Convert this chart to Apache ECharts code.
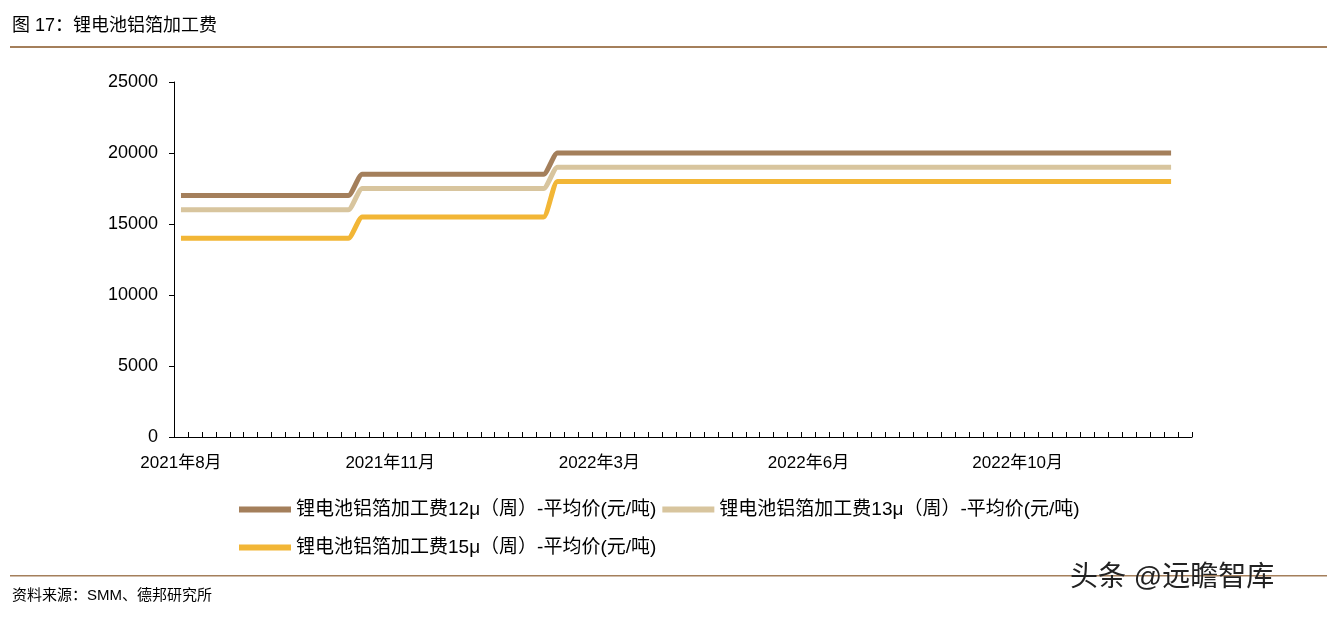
<!DOCTYPE html>
<html><head><meta charset="utf-8">
<script src="https://cdn.jsdelivr.net/npm/echarts@6/dist/echarts.min.js"></script>
<style>html,body{margin:0;background:#fff}#c{width:1335px;height:619px}</style>
</head><body><div id="c"></div>
<script>
// weekly points, Aug 2021 .. Dec 2022
const tickLabels = {0: '2021年8月', 15: '2021年11月', 30: '2022年3月', 45: '2022年6月', 60: '2022年10月'}
const categories = []
for (let i = 0; i < 73; i++) categories.push('w' + i)

const run = (v, n) => Array(n).fill(v)
const s12 = [].concat(run(17000, 13), run(18500, 14), run(20000, 45))
const s13 = [].concat(run(16000, 13), run(17500, 14), run(19000, 45))
const s15 = [].concat(run(14000, 13), run(15500, 14), run(18000, 45))

const names = ['锂电池铝箔加工费12μ（周）-平均价(元/吨)', '锂电池铝箔加工费13μ（周）-平均价(元/吨)', '锂电池铝箔加工费15μ（周）-平均价(元/吨)']
const colors = ['#A47F5B', '#D8C59E', '#F2B636']
const font = 'Arial, "Noto Sans CJK SC", sans-serif'

const chart = echarts.init(document.getElementById('c'))
const line = (name, data, color) => ({
  name, data, type: 'line', symbol: 'none', smooth: 0.2,
  lineStyle: { width: 5, color }, itemStyle: { color }
})
chart.setOption({
  animation: false,
  textStyle: { fontFamily: font },
  grid: { left: 174, right: 143, top: 82, bottom: 182 },
  xAxis: {
    type: 'category', data: categories, boundaryGap: true,
    axisLine: { lineStyle: { color: '#000' } },
    axisTick: { show: true, interval: 0, inside: true, length: 5, lineStyle: { color: '#000' } },
    axisLabel: { interval: 0, color: '#000', fontSize: 17, margin: 18, formatter: (v, i) => tickLabels[i] || '' }
  },
  yAxis: {
    min: 0, max: 25000, interval: 5000,
    axisLine: { show: true, lineStyle: { color: '#000' } },
    axisTick: { show: true, length: 5, lineStyle: { color: '#000' } },
    splitLine: { show: false },
    axisLabel: { color: '#000', fontSize: 18, margin: 16, formatter: v => String(v) }
  },
  legend: [
    { data: names.slice(0, 2), left: 234, top: 495, icon: 'rect', itemWidth: 52, itemHeight: 6, itemGap: 6, textStyle: { fontSize: 19, color: '#000' } },
    { data: names.slice(2), left: 234, top: 533, icon: 'rect', itemWidth: 52, itemHeight: 6, textStyle: { fontSize: 19, color: '#000' } }
  ],
  series: [line(names[0], s12, colors[0]), line(names[1], s13, colors[1]), line(names[2], s15, colors[2])],
  graphic: [
    { type: 'text', left: 12, top: 17, style: { text: '图 17：锂电池铝箔加工费', font: '18px ' + font, fill: '#000' } },
    { type: 'rect', shape: { x: 10, y: 46, width: 1317, height: 2 }, style: { fill: '#A47F5B' } },
    { type: 'rect', shape: { x: 10, y: 575, width: 1317, height: 1.5 }, style: { fill: '#A47F5B' } },
    { type: 'text', left: 12, top: 588, style: { text: '资料来源：SMM、德邦研究所', font: '15px ' + font, fill: '#000' } },
    { type: 'text', left: 1070, top: 564, style: { text: '头条 @远瞻智库', font: '28px ' + font, fill: '#222' } }
  ]
})
</script></body></html>
